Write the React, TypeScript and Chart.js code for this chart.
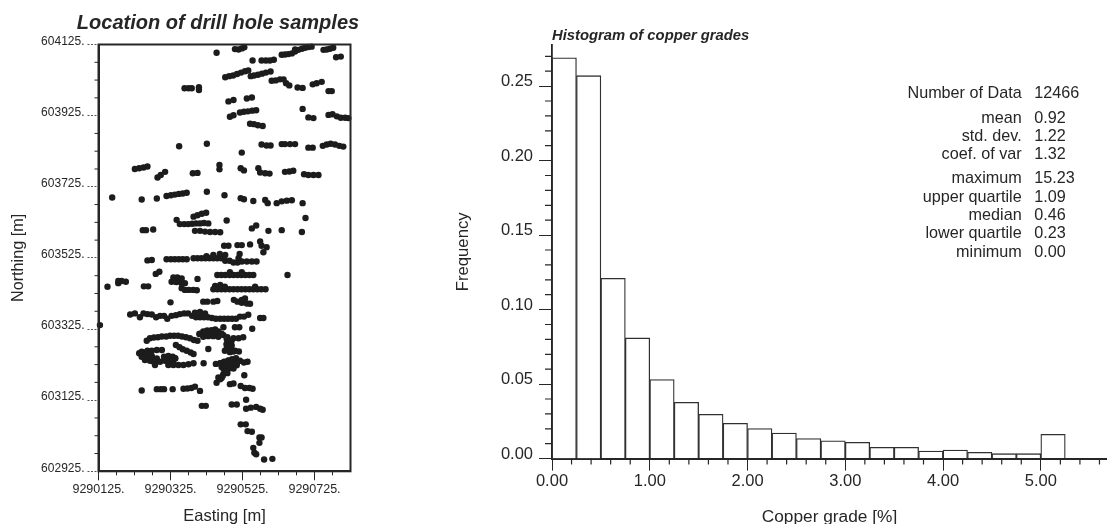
import React, { useEffect, useRef } from "react";
import { Chart, registerables } from "chart.js";

Chart.register(...registerables);

// ---- drill hole samples: [easting - 9290000, northing - 603000]
const EASTING_BASE = 9290000;
const NORTHING_BASE = 603000;

const samplesTop: number[][] = [
  [453,1102],[504,1112],[514,1111],[523,1114],[530,1117],
  [634,1096],[643,1097],[652,1098],[662,1100],[671,1105],[671,1111],[680,1110],[690,1113],[699,1116],[708,1118],[717,1119],
  [750,1110],[759,1111],[768,1113],[777,1116],[785,1089],[798,1091],
  [553,1080],[578,1080],[590,1080],[601,1080],[612,1082],
  [477,1033],[488,1036],[499,1038],[510,1042],[521,1046],[532,1050],[541,1052],
  [548,1036],[557,1038],[568,1040],[579,1043],[590,1046],[603,1049],
  [606,1023],[617,1024],[629,1027],[639,1027],[646,1016],[655,1010],
  [678,1004],[692,1003],[720,1013],[731,1016],[745,1020],[764,994],[773,994],
  [364,1002],[375,1002],[384,1002],[404,1005],[404,997],
  [486,965],[500,969],[537,973],[551,976],
  [490,922],[500,926],[518,934],[529,936],[540,937],[552,939],[563,940],
  [546,902],[557,901],[568,898],[581,896],
  [692,944],[708,920],[722,918],
  [764,927],[775,929],[787,923],[798,919],[810,919],[819,918],
];

const samplesUpperMiddle: number[][] = [
  [349,839],[426,846],[578,844],[592,841],[603,841],[634,845],[643,845],[657,845],[671,845],
  [708,835],[720,835],[748,840],[759,844],[770,846],[782,844],[794,840],[805,838],[523,821],
  [226,775],[238,777],[250,779],[261,782],[289,751],[298,758],[310,767],
  [387,763],[400,764],[461,786],[461,774],[520,777],[529,771],
  [569,777],[574,765],[588,763],[600,762],[643,767],[655,768],[666,770],
  [696,760],[708,758],[722,758],[736,758],
  [163,695],[245,689],[287,692],
  [314,699],[326,701],[337,703],[348,705],[359,706],[370,708],
  [426,711],[475,701],[520,693],[529,690],[555,685],[588,688],[595,679],
  [620,679],[634,684],[648,686],[662,687],[692,679],
  [389,641],[400,645],[412,649],[424,652],
  [342,632],[351,620],[363,620],[374,620],[385,621],[396,622],[407,622],[418,623],[430,622],
  [248,603],[257,603],[277,605],
  [393,601],[407,601],[421,599],[435,598],[449,598],[463,597],
  [481,630],[700,637],[551,608],[563,616],[597,601],[634,603],[690,598],
  [474,559],[486,559],[511,561],[523,561],[546,563],[574,571],[578,559],[592,555],[583,541],
];

const samplesCentral: number[][] = [
  [261,518],[273,519],
  [314,521],[326,521],[337,521],[348,521],[359,521],[370,521],
  [389,524],[400,524],[411,524],[422,524],[433,524],[444,524],[455,524],[466,524],[477,517],[489,517],[500,512],[511,512],
  [425,530],[444,533],[462,536],[477,533],[517,536],[514,524],
  [523,515],[537,515],[551,515],[564,515],
  [284,480],[294,486],
  [455,477],[466,477],[477,477],[489,477],[500,477],[511,477],[522,477],[533,477],[544,477],[555,477],[490,485],[523,485],
  [650,477],[400,466],
  [150,444],[180,454],[189,460],[201,458],[180,460],
  [251,445],[263,445],
  [333,470],[344,470],[353,465],[328,458],[340,458],[356,454],[365,454],[342,457],[356,467],
  [356,440],[365,435],[376,435],[388,435],[398,434],
  [444,437],[455,437],[466,437],[477,437],[489,437],[500,437],[511,437],[522,437],[533,437],[544,437],[555,437],[566,437],[577,437],[589,437],
  [449,446],[463,449],[476,444],[560,444],
  [325,400],[416,402],[427,402],[444,402],[455,404],
  [501,407],[511,402],[523,399],[537,397],[546,396],[532,411],[523,407],
];

const samplesLongRow: number[][] = [
  [213,366],[226,369],[240,358],[250,369],[261,367],[273,366],[285,358],[296,362],[307,362],[316,354],
  [328,362],[340,364],[351,367],[363,369],[374,369],[385,362],[396,358],[407,358],[418,358],[429,358],
  [440,356],[451,354],[463,354],[474,354],[485,354],[496,354],[507,354],[518,360],[529,360],[541,365],
  [393,371],[407,373],[421,369],[574,356],[583,356],[129,336],
];

const samplesLower: number[][] = [
  [472,330],[504,330],[516,330],[552,326],
  [405,311],[416,318],[427,321],[439,322],[449,324],[416,308],[430,311],[444,313],[458,318],
  [407,312],[421,317],[435,319],[449,315],[416,303],[430,305],[444,305],[458,303],[467,312],
  [472,308],[483,302],[490,290],[481,280],[490,271],[476,264],[490,264],[504,264],[515,262],[500,299],[514,299],[527,302],
  [481,298],[495,293],[481,284],[495,279],[481,268],[500,262],[490,260],
  [259,292],[268,299],[279,301],[290,302],[301,304],[313,304],[324,306],[335,306],[346,306],[357,304],[368,302],[379,299],[390,294],[400,292],
  [340,280],[350,274],[359,268],[370,264],[381,259],[389,255],[430,269],
  [238,257],[250,259],[261,264],[273,264],[287,266],[301,266],[245,247],[259,247],[273,249],
  [245,261],[259,256],[273,246],[287,242],[263,242],[277,234],[310,242],[324,237],[338,242],[333,228],
  [254,238],[268,236],[282,233],[296,233],[307,247],[319,249],[331,247],[310,236],[324,236],[338,243],
  [319,224],[333,224],[347,224],[361,224],[375,226],[389,229],[282,224],[417,229],
  [451,227],[463,229],[474,233],[485,236],[496,240],[507,243],[518,236],[529,231],[539,233],
  [463,228],[474,232],[486,237],[500,237],[511,232],[481,223],[495,223],[509,223],[472,214],[486,214],[500,214],[481,204],
  [467,218],[481,224],[495,229],[509,229],[476,210],[490,215],[472,199],[483,201],[458,189],[467,187],[530,195],
];

const samplesBottom: number[][] = [
  [453,174],[463,184],[470,193],[481,204],[490,170],[500,172],
  [520,165],[532,159],[544,159],[553,157],
  [245,152],[287,156],[298,156],[307,156],[331,156],
  [361,157],[372,158],[383,159],[393,163],[407,151],
  [412,109],[423,109],[535,126],[495,113],[509,113],
  [535,101],[548,104],[563,106],[574,101],[581,98],
  [520,57],[534,57],[539,38],[551,36],
  [572,20],[578,20],[572,5],[555,-9],[558,-23],[563,-27],[585,-42],[608,-40],
];

const locationBands = [samplesTop, samplesUpperMiddle, samplesCentral, samplesLongRow, samplesLower, samplesBottom];

const eastingTicks = [9290125, 9290325, 9290525, 9290725];
const eastingMinor = [9290175, 9290225, 9290275, 9290375, 9290425, 9290475, 9290575, 9290625, 9290675, 9290775];
const northingTicks = [602925, 603125, 603325, 603525, 603725, 603925, 604125];
const northingMinor = [602975, 603025, 603075, 603175, 603225, 603275, 603375, 603425, 603475, 603575, 603625, 603675, 603775, 603825, 603875, 603975, 604025, 604075];

// ---- histogram
const binCenters = [0.125, 0.375, 0.625, 0.875, 1.125, 1.375, 1.625, 1.875, 2.125, 2.375, 2.625, 2.875, 3.125, 3.375, 3.625, 3.875, 4.125, 4.375, 4.625, 4.875, 5.125];
const frequencies = [0.269, 0.257, 0.121, 0.081, 0.053, 0.0378, 0.0297, 0.0237, 0.0201, 0.0172, 0.0134, 0.012, 0.0109, 0.0076, 0.0076, 0.0051, 0.0058, 0.0042, 0.0033, 0.0033, 0.0163];
const gradeTicks = [0, 1, 2, 3, 4, 5];
const gradeMinor = [0.2, 0.4, 0.6, 0.8, 1.2, 1.4, 1.6, 1.8, 2.2, 2.4, 2.6, 2.8, 3.2, 3.4, 3.6, 3.8, 4.2, 4.4, 4.6, 4.8, 5.2, 5.4, 5.6];
const freqTicks = [0, 0.05, 0.1, 0.15, 0.2, 0.25];
const freqMinor = [0.01, 0.02, 0.03, 0.04, 0.06, 0.07, 0.08, 0.09, 0.11, 0.12, 0.13, 0.14, 0.16, 0.17, 0.18, 0.19, 0.21, 0.22, 0.23, 0.24, 0.26, 0.27];

const statLabels = ["Number of Data", "mean", "std. dev.", "coef. of var", "maximum", "upper quartile", "median", "lower quartile", "minimum"];
const statValues = ["12466", "0.92", "1.22", "1.32", "15.23", "1.09", "0.46", "0.23", "0.00"];
const statRows = [93.3, 118.3, 136.7, 154.3, 179, 197.7, 215.7, 233.3, 252.3];

const INK = "#262626";
const FONT = "'Liberation Sans', Arial, sans-serif";

const minorTicksPlugin = {
  id: "minorTicks",
  afterDraw(chart: any, _a: any, opts: any) {
    const { ctx, scales } = chart;
    ctx.save();
    ctx.strokeStyle = INK;
    ctx.lineWidth = opts.width;
    const x = scales.x, y = scales.y;
    ctx.beginPath();
    for (const v of opts.x) {
      const p = x.getPixelForValue(v);
      ctx.moveTo(p, x.top);
      ctx.lineTo(p, x.top + opts.xLen);
    }
    for (const v of opts.y) {
      const p = y.getPixelForValue(v);
      ctx.moveTo(y.right, p);
      ctx.lineTo(y.right - opts.yLen, p);
    }
    ctx.stroke();
    ctx.restore();
  },
};

const framePlugin = {
  id: "frame",
  afterDraw(chart: any, _a: any, opts: any) {
    if (!opts.on) return;
    const { ctx, chartArea: a } = chart;
    ctx.save();
    ctx.strokeStyle = INK;
    ctx.lineWidth = 2;
    ctx.strokeRect(a.left, a.top, a.right - a.left, a.bottom - a.top);
    ctx.restore();
  },
};

const notesPlugin = {
  id: "notes",
  afterDraw(chart: any, _a: any, opts: any) {
    if (!opts.on) return;
    const { ctx } = chart;
    const off = opts.offsetX;
    ctx.save();
    ctx.fillStyle = INK;
    ctx.font = `16.2px ${FONT}`;
    ctx.textBaseline = "middle";
    statRows.forEach((rowY: number, i: number) => {
      ctx.textAlign = "right";
      ctx.fillText(statLabels[i], 1021.7 - off, rowY);
      ctx.textAlign = "left";
      ctx.fillText(statValues[i], 1034.3 - off, rowY);
    });
    ctx.restore();
  },
};

function makeLocation(canvas: HTMLCanvasElement) {
  const points = locationBands.flat().map(([e, n]) => ({ x: EASTING_BASE + e, y: NORTHING_BASE + n }));
  return new Chart(canvas, {
    type: "scatter",
    data: {
      datasets: [
        { data: points, pointRadius: 3.2, pointBackgroundColor: "#1c1c1c", pointBorderWidth: 0, clip: false } as any,
      ],
    },
    plugins: [minorTicksPlugin, framePlugin],
    options: {
      animation: false,
      responsive: false,
      devicePixelRatio: 1,
      plugins: {
        legend: { display: false },
        tooltip: { enabled: false },
        title: {
          display: true,
          text: "Location of drill hole samples",
          color: INK,
          font: { family: FONT, size: 20, style: "italic", weight: "bold", lineHeight: 1 },
          padding: { top: 13, bottom: 11.5 },
        },
        minorTicks: { x: eastingMinor, y: northingMinor, xLen: 4, yLen: 4, width: 1 },
        frame: { on: true },
      } as any,
      scales: {
        x: {
          type: "linear",
          min: 9290125,
          max: 9290825,
          afterBuildTicks: (s: any) => { s.ticks = eastingTicks.map((value) => ({ value })); },
          afterFit: (s: any) => { s.height = 52.7; },
          grid: { drawOnChartArea: false, tickLength: 9, tickColor: INK },
          border: { color: INK, width: 2 },
          ticks: {
            color: INK, maxRotation: 0, autoSkip: false, padding: 2,
            font: { family: FONT, size: 12.5 },
            callback: (v: any) => `${v}.`,
          },
          title: {
            display: true, text: "Easting [m]", color: INK,
            font: { family: FONT, size: 16.5, lineHeight: 1 },
            padding: { top: 0, bottom: -1 },
          },
        },
        y: {
          type: "linear",
          min: 602925,
          max: 604125,
          afterBuildTicks: (s: any) => { s.ticks = northingTicks.map((value) => ({ value })); },
          afterFit: (s: any) => { s.width = 98.5; },
          grid: { drawOnChartArea: false, tickLength: 11, tickColor: "#555", tickBorderDash: [2, 1.5] },
          border: { color: INK, width: 2 },
          ticks: {
            color: INK, autoSkip: false, padding: 3,
            font: { family: FONT, size: 12, lineHeight: 0.5 },
            callback: (v: any) => [`${v}.`, ""],
          },
          title: {
            display: true, text: "Northing [m]", color: INK,
            font: { family: FONT, size: 16.2, lineHeight: 1 },
            padding: { top: 10, bottom: 0 },
          },
        },
        // empty margin axis: keeps the plot's right edge clear of the canvas edge while the title stays centred on the canvas
        margin: {
          type: "linear",
          position: "right",
          display: true,
          afterFit: (s: any) => { s.width = 85.5; },
          grid: { display: false },
          border: { display: false },
          ticks: { display: false },
        },
      },
    },
  } as any);
}

function makeHistogram(canvas: HTMLCanvasElement, offsetX: number) {
  return new Chart(canvas, {
    type: "bar",
    data: {
      datasets: [
        {
          data: binCenters.map((x, i) => ({ x, y: frequencies[i] })),
          backgroundColor: "#ffffff",
          borderColor: "#303030",
          borderWidth: 1.3,
          barPercentage: 1,
          categoryPercentage: 1,
        } as any,
      ],
    },
    plugins: [minorTicksPlugin, framePlugin, notesPlugin],
    options: {
      animation: false,
      responsive: false,
      devicePixelRatio: 1,
      plugins: {
        legend: { display: false },
        tooltip: { enabled: false },
        title: {
          display: true,
          text: "Histogram of copper grades",
          color: INK,
          align: "start",
          fullSize: false,
          font: { family: FONT, size: 14.8, style: "italic", weight: "bold", lineHeight: 1 },
          padding: { top: 28.2, bottom: 2 },
        },
        minorTicks: { x: gradeMinor, y: freqMinor, xLen: 6, yLen: 7, width: 1.2 },
        frame: { on: false },
        notes: { on: true, offsetX },
      } as any,
      scales: {
        x: {
          type: "linear",
          offset: false,
          min: 0,
          max: 5.677,
          afterBuildTicks: (s: any) => { s.ticks = gradeTicks.map((value) => ({ value })); },
          afterFit: (s: any) => { s.height = 65.4; },
          grid: { offset: false, drawOnChartArea: false, tickLength: 12, tickColor: INK },
          border: { color: INK, width: 2 },
          ticks: {
            color: INK, maxRotation: 0, autoSkip: false, padding: 2,
            font: { family: FONT, size: 16.5, lineHeight: 1.1 },
            callback: (v: any) => Number(v).toFixed(2),
          },
          title: {
            display: true, text: "Copper grade [%]", color: INK,
            font: { family: FONT, size: 17.3, lineHeight: 1 },
            padding: { top: 0, bottom: -2 },
          },
        },
        y: {
          type: "linear",
          min: 0,
          max: 0.2776,
          afterBuildTicks: (s: any) => { s.ticks = freqTicks.map((value) => ({ value })); },
          afterFit: (s: any) => { s.width = 552 - offsetX; },
          grid: { drawOnChartArea: false, tickLength: 13, tickColor: INK },
          border: { color: INK, width: 1.8 },
          ticks: {
            color: INK, autoSkip: false, padding: 6,
            font: { family: FONT, size: 16.5, lineHeight: 0.55 },
            callback: (v: any) => [Number(v).toFixed(2), ""],
          },
          title: {
            display: true, text: "Frequency", color: INK,
            font: { family: FONT, size: 16.7, lineHeight: 1 },
            padding: { top: 14.6, bottom: 0 },
          },
        },
      },
    },
  } as any);
}

export default function App() {
  const leftRef = useRef<HTMLCanvasElement>(null);
  const rightRef = useRef<HTMLCanvasElement>(null);
  useEffect(() => {
    const a = makeLocation(leftRef.current!);
    const b = makeHistogram(rightRef.current!, 440);
    return () => { a.destroy(); b.destroy(); };
  }, []);
  return (
    <div style={{ position: "absolute", left: 0, top: 0, width: 1107, height: 524, background: "#fff", overflow: "hidden" }}>
      <canvas ref={leftRef} width={436} height={524} style={{ position: "absolute", left: 0, top: 0, width: 436, height: 524 }} />
      <canvas ref={rightRef} width={667} height={524} style={{ position: "absolute", left: 440, top: 0, width: 667, height: 524 }} />
    </div>
  );
}
